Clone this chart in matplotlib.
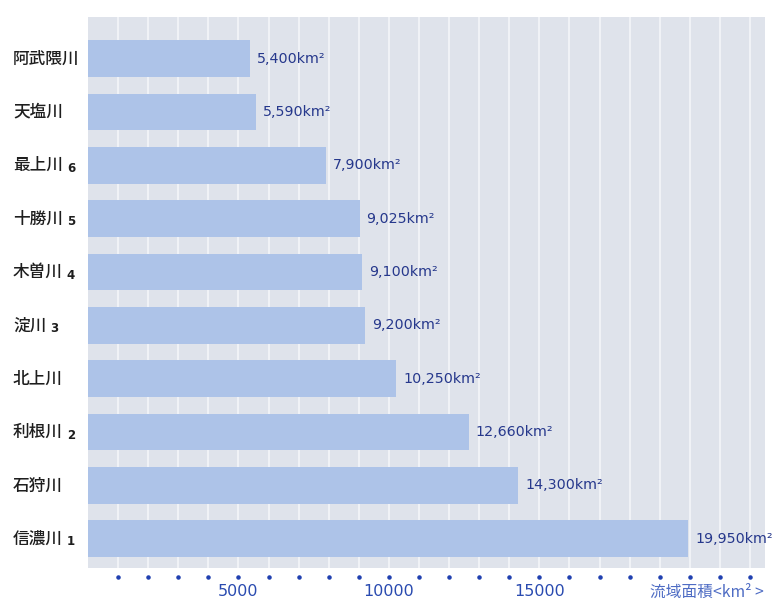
import matplotlib
matplotlib.use("Agg")
import matplotlib.pyplot as plt
import matplotlib.transforms as mtrans
import numpy as np

plt.rcParams['font.family'] = ['Noto Sans CJK JP', 'DejaVu Sans']

rivers = ["阿武隈川", "天塩川", "最上川", "十勝川", "木曽川", "淀川", "北上川", "利根川", "石狩川", "信濃川"]
ranks = ["", "", "6", "5", "4", "3", "", "2", "", "1"]
areas = [5400, 5590, 7900, 9025, 9100, 9200, 10250, 12660, 14300, 19950]
xticks = [5000, 10000, 15000]
xlabel = "流域面積<km² >"

W, H = 782, 599
fig = plt.figure(figsize=(W/100, H/100), dpi=100)
left, right, top, bottom = 88, 765, 17, 568
ax = fig.add_axes([left/W, 1-bottom/H, (right-left)/W, (bottom-top)/H])
ax.set_facecolor("#dfe3eb")
bar_color = "#adc3e8"
txt_color = "#26388c"

y = np.arange(len(rivers))
ax.barh(y, areas, height=0.69, color=bar_color, zorder=3, linewidth=0)
for v in range(1000, 23000, 1000):
    ax.axvline(v, color="#f6f7fa", lw=1.1, zorder=1)
ax.set_xlim(0, 22500)
ax.set_ylim(9.55, -0.78)
for s in ax.spines.values():
    s.set_visible(False)
ax.set_xticks([])
ax.set_yticks([])

for i, v in enumerate(areas):
    ax.annotate(f"{v:,}km²", (v, i), xytext=(5, 0), textcoords="offset points",
                va="center", ha="left", fontsize=10.3, color=txt_color, zorder=5,
                family=['DejaVu Sans'])

# dots below axis
dot_x = np.arange(1000, 23000, 1000)
ax.scatter(dot_x, np.full(len(dot_x), 9.72), s=5, color="#2040b0", clip_on=False, zorder=5)
for t in xticks:
    ax.text(t, 9.99, str(t), ha="center", va="center", fontsize=11.5, color="#2a4bb0",
            family=['DejaVu Sans'], fontweight="medium", clip_on=False)
fig.text(650/W, 1-592/H, xlabel, ha="left", va="center", fontsize=11.3, color="#4e6cc4")

fig.canvas.draw()
renderer = fig.canvas.get_renderer()
tr = mtrans.blended_transform_factory(fig.transFigure, ax.transData)
for i, (name, r) in enumerate(zip(rivers, ranks)):
    t = ax.text(13/W, i, name, transform=tr, ha="left", va="center",
                fontsize=12, color="#1e1e1e", fontweight="medium")
    if r:
        bb = t.get_window_extent(renderer)
        ax.text((bb.x1 + 4)/W, i + 0.06, r, transform=tr, ha="left", va="center",
                fontsize=8.5, color="#1e1e1e", family=['DejaVu Sans'], fontweight="bold")

fig.savefig("out.png", dpi=100)
